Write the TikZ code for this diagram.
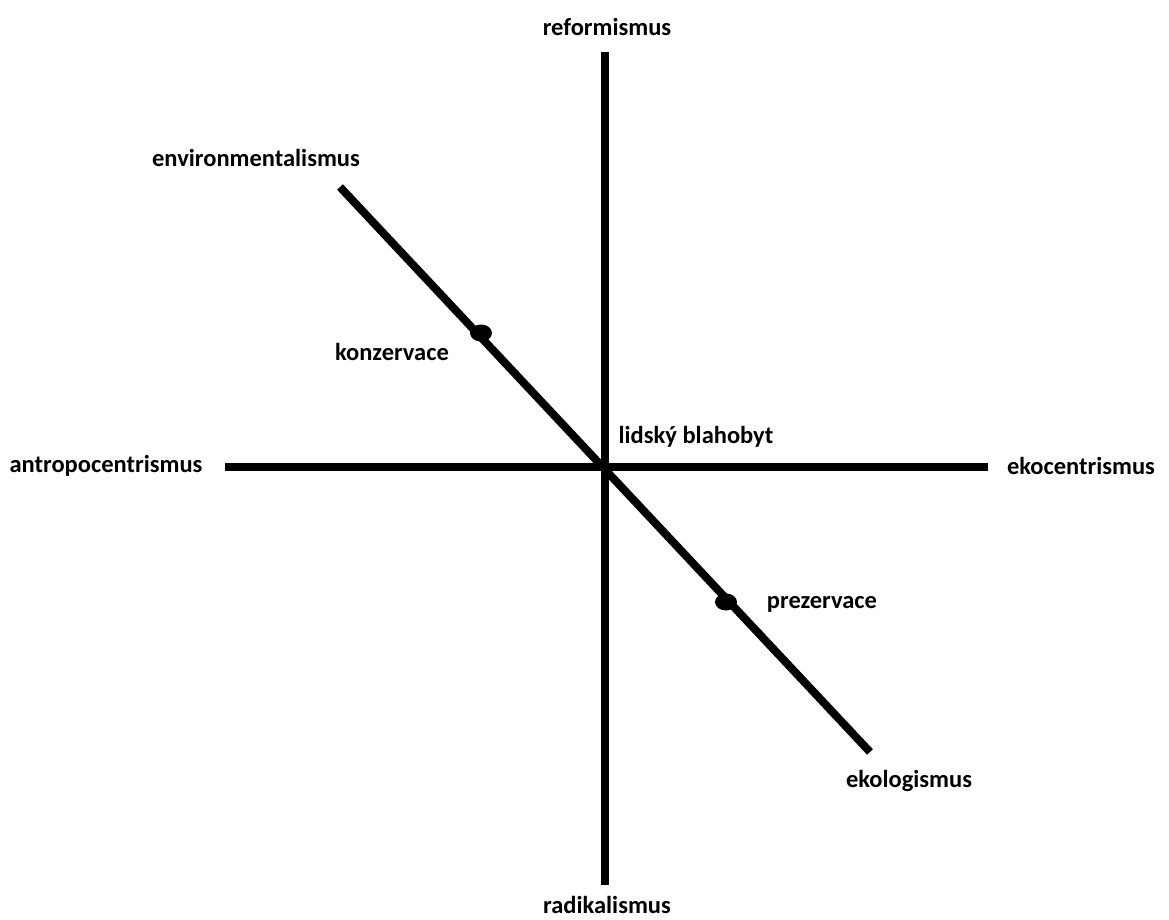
\documentclass[tikz,border=0pt]{standalone}
\usepackage{fontspec}
\setmainfont{Carlito}
\usepackage{tikz}
\usetikzlibrary{positioning,shapes.geometric}

\begin{document}
\begin{tikzpicture}[x=1pt,y=-1pt,
lbl/.style={font=\bfseries\fontsize{24.5}{29}\selectfont,inner sep=0pt},
axis/.style={line width=8pt},
dot/.style={ellipse,fill=black,minimum width=22pt,minimum height=17pt,inner sep=0pt}]
\useasboundingbox (0,0) rectangle (1169,920);
\coordinate (top) at (605,52);
\coordinate (bot) at (605,885);
\coordinate (lft) at (225,467);
\coordinate (rgt) at (988,467);
\coordinate (ul) at (340,187);
\coordinate (lr) at (870,752);
\draw[axis] (top) -- (bot);
\draw[axis] (lft) -- (rgt);
\draw[axis] (ul) -- (lr);
\node[dot] (kon) at (481,333) {};
\node[dot] (pre) at (726,602) {};
\node[lbl] (reform) at (607,27) {reformismus};
\node[lbl] (radik) at (607,905) {radikalismus};
\node[lbl] (antro) at (106,466) {antropocentrismus};
\node[lbl] (eko) at (1081,466) {ekocentrismus};
\node[lbl] (env) at (256,158) {environmentalismus};
\node[lbl] (konz) at (392,352) {konzervace};
\node[lbl] (lids) at (696,437) {lidský blahobyt};
\node[lbl] (prez) at (822,604) {prezervace};
\node[lbl] (ekol) at (909,781) {ekologismus};
\end{tikzpicture}
\end{document}
